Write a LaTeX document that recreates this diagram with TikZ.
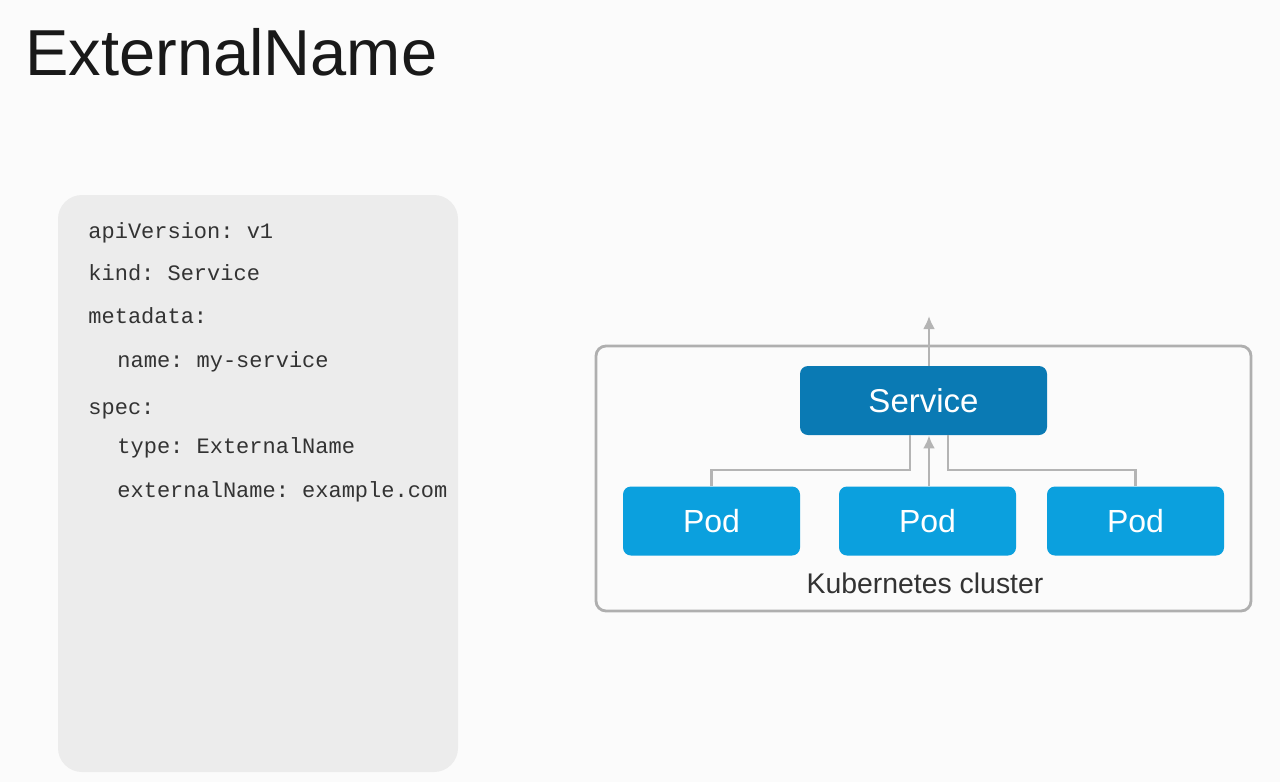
\documentclass[tikz,border=0pt]{standalone}
\usepackage{fontspec}
\setmainfont{Liberation Sans}
\setmonofont{Liberation Mono}
\usetikzlibrary{arrows.meta}
\definecolor{bg}{HTML}{FBFBFB}
\definecolor{codebg}{HTML}{ECECEC}
\definecolor{codetext}{HTML}{333333}
\definecolor{svcblue}{HTML}{0A7AB4}
\definecolor{podblue}{HTML}{0BA0DE}
\definecolor{linkgray}{HTML}{B4B4B4}
\tikzset{
  box/.style={rounded corners=4pt, draw=none, text=white, minimum height=34.5pt},
  pod/.style={box, fill=podblue, minimum width=88.5pt, font=\fontsize{16}{18}\selectfont},
  svc/.style={box, fill=svcblue, minimum width=123.5pt, font=\fontsize{16.5}{19}\selectfont},
  code/.style={anchor=base west, inner sep=0pt, text=codetext, font=\ttfamily\fontsize{11}{13}\selectfont},
  link/.style={draw=linkgray, line width=1.4pt}
}
\begin{document}
\begin{tikzpicture}[x=0.5pt,y=-0.5pt,>={Latex[length=6.5pt,width=6pt]}]
\useasboundingbox (0,0) rectangle (1280,782);
\fill[bg] (0,0) rectangle (1280,782);

\node (title) [anchor=base west, inner sep=0pt, text=black!90, font=\fontsize{32.5}{36}\selectfont] at (25,75) {ExternalName};

% yaml
\fill[codebg, rounded corners=12pt] (58,195) rectangle (458,772);
\node (l1) [code] at (88,238) {apiVersion: v1};
\node (l2) [code] at (88,280) {kind: Service};
\node (l3) [code] at (88,323) {metadata:};
\node (l4) [code] at (117,367) {name: my-service};
\node (l5) [code] at (88,414) {spec:};
\node (l6) [code] at (117,453) {type: ExternalName};
\node (l7) [code] at (117,497) {externalName: example.com};

% cluster
\draw[linkgray!90!gray, line width=1.4pt, rounded corners=5pt] (596,346) rectangle (1251,611);
\node (svc) [svc] at (923.5,400.5) {Service};
\node (p1) [pod] at (711.5,521) {Pod};
\node (p2) [pod] at (927.5,521) {Pod};
\node (p3) [pod] at (1135.5,521) {Pod};
\node (kc) [anchor=base, inner sep=0pt, text=codetext, font=\fontsize{14.2}{16}\selectfont] at (925,593) {Kubernetes cluster};

\coordinate (out) at (929,316);
\coordinate (mid) at (929,486);
\coordinate (jl) at (910,470);
\coordinate (jr) at (948,470);
\draw[link, ->] (out |- svc.north) -- (out);
\draw[link, ->] (mid) -- (mid |- svc.south);
\draw[link] (p1.north) |- (jl) -- (jl |- svc.south);
\draw[link] (p3.north) |- (jr) -- (jr |- svc.south);
\end{tikzpicture}
\end{document}
